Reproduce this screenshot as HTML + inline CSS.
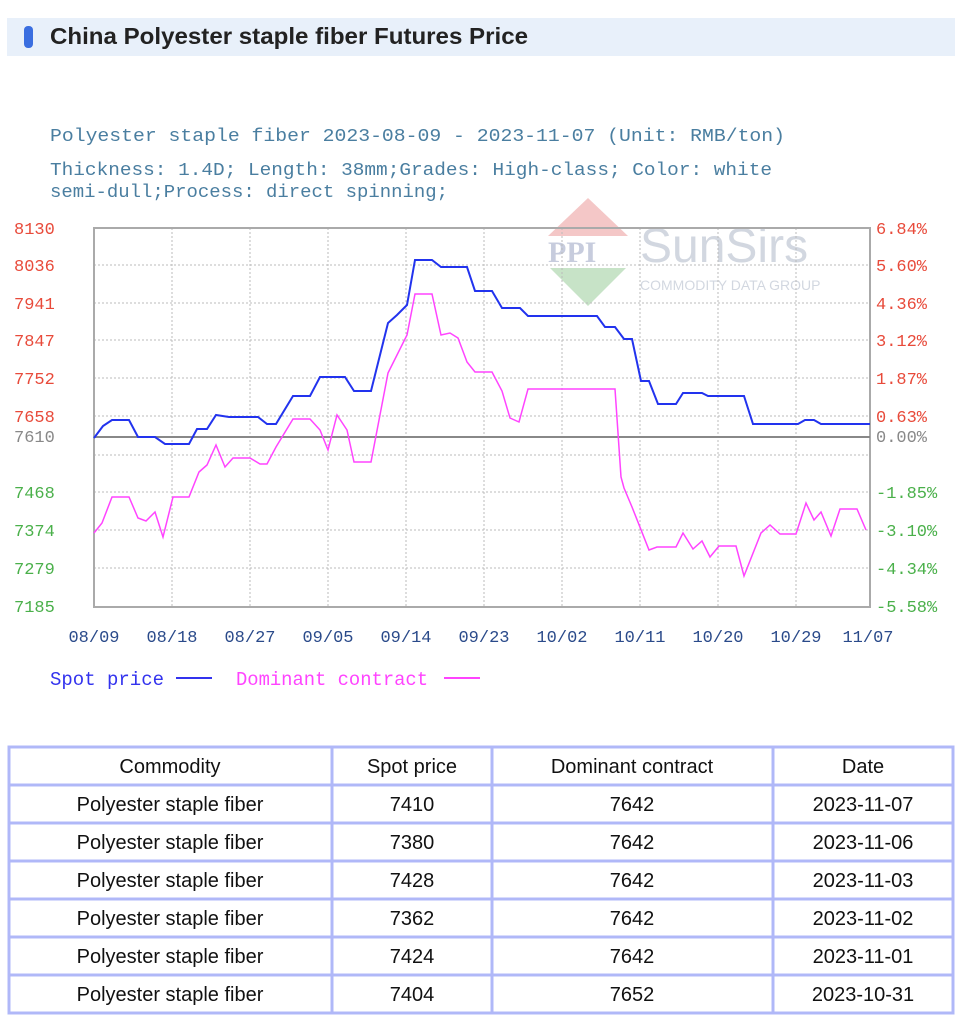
<!DOCTYPE html>
<html><head><meta charset="utf-8"><style>
html,body{margin:0;padding:0;background:#fff;width:969px;height:1024px;overflow:hidden}
svg{display:block}
.m{font-family:"Liberation Mono","DejaVu Sans Mono",monospace}
.s{font-family:"Liberation Sans",Arial,sans-serif}
</style></head><body>
<svg width="969" height="1024" viewBox="0 0 969 1024" xmlns="http://www.w3.org/2000/svg">
<rect x="7" y="18" width="948" height="38" fill="#e8f0fa"/>
<rect x="24" y="26" width="9" height="22" rx="4" fill="#3a6ee0"/>
<text x="50" y="44" class="s" font-size="23" font-weight="bold" fill="#222" textLength="478" lengthAdjust="spacingAndGlyphs">China Polyester staple fiber Futures Price</text>

<g class="m" fill="#4a7ea0" font-size="18">
<text x="50" y="141" textLength="735" lengthAdjust="spacingAndGlyphs">Polyester staple fiber 2023-08-09 - 2023-11-07   (Unit: RMB/ton)</text>
<text x="50" y="175" textLength="722" lengthAdjust="spacingAndGlyphs">Thickness: 1.4D; Length: 38mm;Grades: High-class; Color:  white</text>
<text x="50" y="197" textLength="398" lengthAdjust="spacingAndGlyphs">semi-dull;Process: direct spinning;</text>
</g>

<g opacity="0.35">
<polygon points="588,198 548,236 628,236" fill="#e06060"/>
<polygon points="550,268 626,268 588,306" fill="#60b060"/>
<text x="548" y="262" font-family="Liberation Serif,serif" font-size="30" font-weight="bold" fill="#6070a0">PPI</text>
<text x="640" y="262" class="s" font-size="48" fill="#8090a8">SunSirs</text>
<text x="640" y="290" class="s" font-size="14" fill="#8090a8">COMMODITY DATA GROUP</text>
</g>

<g stroke="#bbb" stroke-width="1" stroke-dasharray="2,2" fill="none">
<line x1="94" y1="265" x2="870" y2="265"/><line x1="94" y1="303" x2="870" y2="303"/>
<line x1="94" y1="340" x2="870" y2="340"/><line x1="94" y1="378" x2="870" y2="378"/>
<line x1="94" y1="416" x2="870" y2="416"/><line x1="94" y1="455" x2="870" y2="455"/>
<line x1="94" y1="492" x2="870" y2="492"/><line x1="94" y1="530" x2="870" y2="530"/>
<line x1="94" y1="568" x2="870" y2="568"/>
<line x1="172" y1="228" x2="172" y2="607"/><line x1="250" y1="228" x2="250" y2="607"/>
<line x1="328" y1="228" x2="328" y2="607"/><line x1="406" y1="228" x2="406" y2="607"/>
<line x1="484" y1="228" x2="484" y2="607"/><line x1="562" y1="228" x2="562" y2="607"/>
<line x1="640" y1="228" x2="640" y2="607"/><line x1="718" y1="228" x2="718" y2="607"/>
<line x1="796" y1="228" x2="796" y2="607"/>
</g>
<rect x="94" y="228" width="776" height="379" fill="none" stroke="#aaa" stroke-width="2"/>
<line x1="94" y1="437" x2="870" y2="437" stroke="#888" stroke-width="2"/>

<polyline fill="none" stroke="#ff44ff" stroke-width="1.5" points="94,533 102,523 112,497 129,497 138,518 146,521 155,512 163,537 173,497 189,497 199,472 207,465 216,445 225,467 233,458 250,458 260,464 267,464 276,447 293,419 310,419 320,430 328,450 337,415 347,430 354,462 371,462 388,373 407,335 415,294 432,294 441,335 450,333 458,338 467,362 475,372 492,372 502,391 510,418 519,422 528,389 615,389 621,477 624,488 632,507 649,550 657,547 676,547 683,533 693,549 702,541 710,557 719,546 736,546 744,576 761,533 770,525 780,534 796,534 806,503 814,520 821,512 831,536 840,509 857,509 866,530"/>
<polyline fill="none" stroke="#2233ee" stroke-width="2" points="94,438 103,426 112,420 129,420 138,437 155,437 165,444 189,444 197,429 207,429 216,415 229,417 258,417 267,424 276,424 293,396 310,396 320,377 345,377 354,391 371,391 388,323 397,315 407,305 415,260 432,260 441,267 467,267 475,291 492,291 502,308 520,308 528,316 597,316 605,327 615,327 624,339 632,339 641,381 649,381 658,404 676,404 683,393 702,393 708,396 744,396 753,424 798,424 805,420 814,420 821,424 870,424"/>

<g class="m" font-size="17">
<g fill="#e84a3a">
<text x="14" y="234">8130</text><text x="14" y="271">8036</text><text x="14" y="309">7941</text>
<text x="14" y="346">7847</text><text x="14" y="384">7752</text><text x="14" y="422">7658</text>
<text x="876" y="234">6.84%</text><text x="876" y="271">5.60%</text><text x="876" y="309">4.36%</text>
<text x="876" y="346">3.12%</text><text x="876" y="384">1.87%</text><text x="876" y="422">0.63%</text>
</g>
<g fill="#888"><text x="14" y="442">7610</text><text x="876" y="442">0.00%</text></g>
<g fill="#4ab04a">
<text x="14" y="498">7468</text><text x="14" y="536">7374</text><text x="14" y="574">7279</text><text x="14" y="612">7185</text>
<text x="876" y="498">-1.85%</text><text x="876" y="536">-3.10%</text><text x="876" y="574">-4.34%</text><text x="876" y="612">-5.58%</text>
</g>
<g fill="#2a4a8a" text-anchor="middle">
<text x="94" y="642">08/09</text><text x="172" y="642">08/18</text><text x="250" y="642">08/27</text>
<text x="328" y="642">09/05</text><text x="406" y="642">09/14</text><text x="484" y="642">09/23</text>
<text x="562" y="642">10/02</text><text x="640" y="642">10/11</text><text x="718" y="642">10/20</text>
<text x="796" y="642">10/29</text><text x="868" y="642">11/07</text>
</g>
</g>
<g class="m" font-size="19">
<text x="50" y="685" fill="#3333ee" textLength="114" lengthAdjust="spacingAndGlyphs">Spot price</text>
<line x1="176" y1="678" x2="212" y2="678" stroke="#3333ee" stroke-width="2"/>
<text x="236" y="685" fill="#ff44ff" textLength="192" lengthAdjust="spacingAndGlyphs">Dominant contract</text>
<line x1="444" y1="678" x2="480" y2="678" stroke="#ff44ff" stroke-width="2"/>
</g>

<g stroke="#b0b8f8" stroke-width="3" fill="none">
<rect x="9" y="747" width="944" height="266"/>
<line x1="9" y1="785" x2="953" y2="785"/><line x1="9" y1="823" x2="953" y2="823"/>
<line x1="9" y1="861" x2="953" y2="861"/><line x1="9" y1="899" x2="953" y2="899"/>
<line x1="9" y1="937" x2="953" y2="937"/><line x1="9" y1="975" x2="953" y2="975"/>
<line x1="332" y1="747" x2="332" y2="1013"/><line x1="492" y1="747" x2="492" y2="1013"/>
<line x1="773" y1="747" x2="773" y2="1013"/>
</g>
<g class="s" font-size="20" fill="#111" text-anchor="middle">
<text x="170" y="773">Commodity</text><text x="412" y="773">Spot price</text><text x="632" y="773">Dominant contract</text><text x="863" y="773">Date</text>
<text x="170" y="811">Polyester staple fiber</text><text x="412" y="811">7410</text><text x="632" y="811">7642</text><text x="863" y="811">2023-11-07</text>
<text x="170" y="849">Polyester staple fiber</text><text x="412" y="849">7380</text><text x="632" y="849">7642</text><text x="863" y="849">2023-11-06</text>
<text x="170" y="887">Polyester staple fiber</text><text x="412" y="887">7428</text><text x="632" y="887">7642</text><text x="863" y="887">2023-11-03</text>
<text x="170" y="925">Polyester staple fiber</text><text x="412" y="925">7362</text><text x="632" y="925">7642</text><text x="863" y="925">2023-11-02</text>
<text x="170" y="963">Polyester staple fiber</text><text x="412" y="963">7424</text><text x="632" y="963">7642</text><text x="863" y="963">2023-11-01</text>
<text x="170" y="1001">Polyester staple fiber</text><text x="412" y="1001">7404</text><text x="632" y="1001">7652</text><text x="863" y="1001">2023-10-31</text>
</g>
</svg>
</body></html>
